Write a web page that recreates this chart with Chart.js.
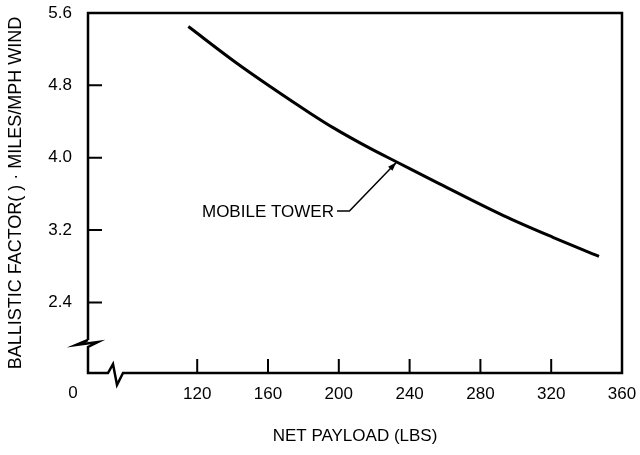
<!DOCTYPE html>
<html>
<head>
<meta charset="utf-8">
<script src="https://cdn.jsdelivr.net/npm/chart.js@4"></script>
<style>
  body { margin: 0; background: #fff; }
  #wrap { width: 640px; height: 455px; }
</style>
</head>
<body>
<div id="wrap"><canvas id="chart"></canvas></div>
<script>
//Curve
const payload = [115, 142, 161, 184, 197, 218, 233, 255, 293, 321, 347];
const ballistic = [5.45, 5.05, 4.79, 4.49, 4.33, 4.10, 3.95, 3.73, 3.36, 3.12, 2.91];
//Tick labels
const xTicks = [120, 160, 200, 240, 280, 320, 360];
const yTicks = [2.4, 3.2, 4.0, 4.8, 5.6];
const originLabel = "0";
//Titles
const xTitle = "NET PAYLOAD (LBS)";
const yTitle = "BALLISTIC FACTOR( ) \u00b7 MILES/MPH WIND";
//Callout, in data units: label anchor, then leader points ending at the curve
const calloutText = "MOBILE TOWER";
const calloutAt = [122.7, 3.40];
const calloutLeader = [[199, 3.41], [206, 3.41], [232.6, 3.95]];

const FONT = "'Liberation Sans', Arial, sans-serif";

//Draw the broken axes, the box, inward ticks and the callout
const framePlugin = {
  id: "frame",
  afterDraw(chart) {
    const { ctx, chartArea, scales } = chart;
    const L = chartArea.left, R = chartArea.right, T = chartArea.top, B = chartArea.bottom;
    ctx.save();
    ctx.strokeStyle = "#000";
    ctx.fillStyle = "#000";
    ctx.lineWidth = 2.5;
    ctx.lineJoin = "miter";
    ctx.beginPath();
    ctx.moveTo(L, B - 33);
    ctx.lineTo(L, T);
    ctx.lineTo(R, T);
    ctx.lineTo(R, B);
    ctx.lineTo(L + 35, B);
    ctx.lineTo(L + 29, B + 12);
    ctx.lineTo(L + 25, B - 9);
    ctx.lineTo(L + 20, B);
    ctx.lineTo(L, B);
    ctx.lineTo(L, B - 26);
    ctx.lineTo(L + 10, B - 31);
    ctx.lineTo(L - 12, B - 28);
    ctx.lineTo(L, B - 33);
    ctx.stroke();

    //inward tick marks
    ctx.lineWidth = 2;
    ctx.beginPath();
    scales.x.ticks.forEach((t) => {
      if (t.value >= scales.x.max) return;
      const px = scales.x.getPixelForValue(t.value);
      ctx.moveTo(px, B);
      ctx.lineTo(px, B - 14);
    });
    scales.y.ticks.forEach((t) => {
      if (t.value >= scales.y.max) return;
      const py = scales.y.getPixelForValue(t.value);
      ctx.moveTo(L, py);
      ctx.lineTo(L + 14, py);
    });
    ctx.stroke();

    //origin label
    ctx.font = "17px " + FONT;
    ctx.textAlign = "center";
    ctx.textBaseline = "middle";
    ctx.fillText(originLabel, L - 15, B + 20);

    //callout
    ctx.textAlign = "left";
    ctx.fillText(calloutText, scales.x.getPixelForValue(calloutAt[0]), scales.y.getPixelForValue(calloutAt[1]));
    const pts = calloutLeader.map((p) => [scales.x.getPixelForValue(p[0]), scales.y.getPixelForValue(p[1])]);
    ctx.lineWidth = 1.5;
    ctx.beginPath();
    ctx.moveTo(pts[0][0], pts[0][1]);
    for (let i = 1; i < pts.length; i++) ctx.lineTo(pts[i][0], pts[i][1]);
    ctx.stroke();
    const tip = pts[pts.length - 1], prev = pts[pts.length - 2];
    const a = Math.atan2(tip[1] - prev[1], tip[0] - prev[0]);
    ctx.beginPath();
    ctx.moveTo(tip[0], tip[1]);
    ctx.lineTo(tip[0] - 9 * Math.cos(a) + 3 * Math.sin(a), tip[1] - 9 * Math.sin(a) - 3 * Math.cos(a));
    ctx.lineTo(tip[0] - 9 * Math.cos(a) - 3 * Math.sin(a), tip[1] - 9 * Math.sin(a) + 3 * Math.cos(a));
    ctx.closePath();
    ctx.fill();
    ctx.restore();
  },
};

new Chart(document.getElementById("chart"), {
  type: "line",
  data: {
    datasets: [
      {
        data: payload.map((p, i) => ({ x: p, y: ballistic[i] })),
        borderColor: "#000",
        borderWidth: 3,
        pointRadius: 0,
        cubicInterpolationMode: "monotone",
        fill: false,
      },
    ],
  },
  plugins: [framePlugin],
  options: {
    responsive: true,
    maintainAspectRatio: false,
    animation: false,
    layout: { padding: { left: 0, right: 18, top: 13, bottom: 0 } },
    plugins: {
      legend: { display: false },
      tooltip: { enabled: false },
    },
    scales: {
      x: {
        type: "linear",
        min: 58.3,
        max: 360,
        grid: { display: false, drawTicks: false },
        border: { display: false },
        afterBuildTicks: (s) => { s.ticks = xTicks.map((v) => ({ value: v })); },
        afterFit: (s) => { s.height = 82; s.paddingLeft = 0; s.paddingRight = 0; },
        ticks: {
          autoSkip: false,
          maxRotation: 0,
          padding: 11,
          color: "#000",
          font: { family: FONT, size: 17 },
          callback: (v) => String(v),
        },
        title: {
          display: true,
          text: xTitle,
          color: "#000",
          font: { family: FONT, size: 17 },
          padding: { top: 0, bottom: 8 },
        },
      },
      y: {
        type: "linear",
        min: 1.62,
        max: 5.6,
        grid: { display: false, drawTicks: false },
        border: { display: false },
        afterBuildTicks: (s) => { s.ticks = yTicks.map((v) => ({ value: v })); },
        afterFit: (s) => { s.width = 88; s.paddingTop = 0; s.paddingBottom = 0; },
        ticks: {
          autoSkip: false,
          padding: 16,
          color: "#000",
          font: { family: FONT, size: 17 },
          callback: (v) => v.toFixed(1),
        },
        title: {
          display: true,
          text: yTitle,
          color: "#000",
          font: { family: FONT, size: 18 },
          padding: { top: 5, bottom: 0 },
        },
      },
    },
  },
});
</script>
</body>
</html>
